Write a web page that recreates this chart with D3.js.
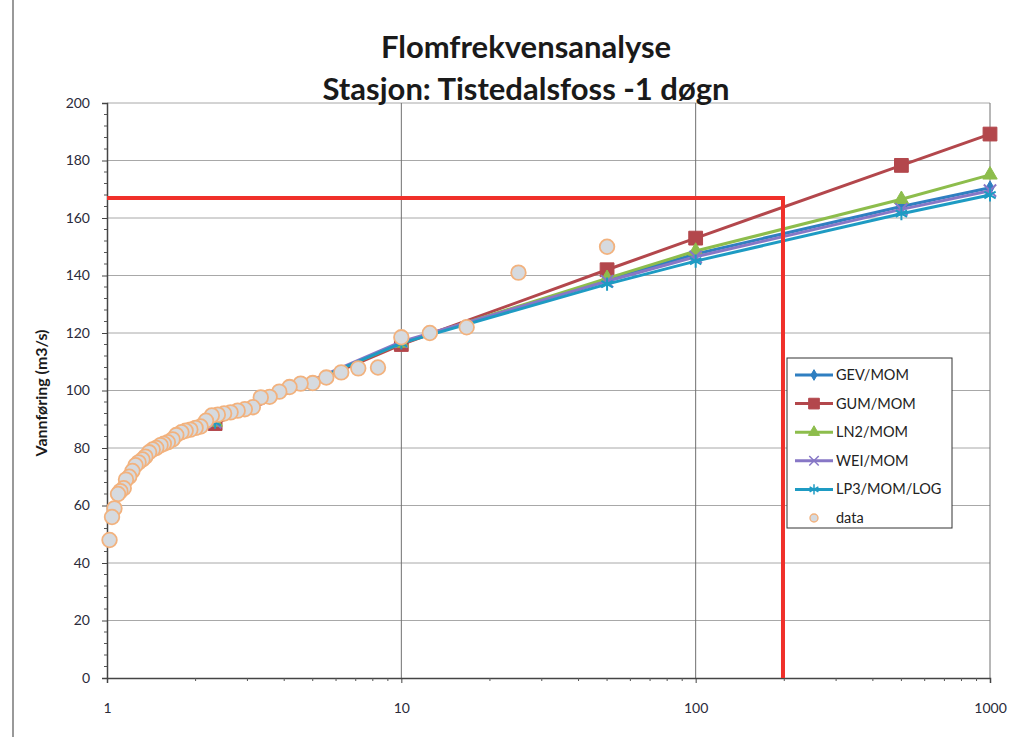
<!DOCTYPE html>
<html>
<head>
<meta charset="utf-8">
<script src="https://cdn.jsdelivr.net/npm/d3@7"></script>
<style>
    html, body { margin: 0; padding: 0; background: #fff; }
    svg { display: block; }
    text { font-family: Lato, "Open Sans", sans-serif; }
</style>
</head>
<body>
<svg id="chart" width="1021" height="737"></svg>
<script>
// ==========================================================================
// DATA
// ==========================================================================

// return periods (years) where the fitted distributions are evaluated
const fitPeriods = [2.33, 10, 50, 100, 500, 1000];

const gevValues = [89, 116.5, 138.5, 147.5, 164, 170.5];
const gumValues = [88.5, 116, 142, 153, 178.3, 189.2];
const ln2Values = [89, 116.5, 139, 148.5, 166.5, 175];
const weiValues = [89, 117, 138, 146.5, 163, 169.5];
const lp3Values = [89, 116.5, 137, 145, 161.5, 168];

// observed annual floods (plotting position, discharge)
const obsPeriods = [50, 25, 16.67, 12.5, 10, 8.33, 7.14, 6.25, 5.56, 5,
    4.55, 4.17, 3.85, 3.57, 3.33, 3.13, 2.94, 2.78, 2.63, 2.5,
    2.38, 2.27, 2.17, 2.08, 2, 1.92, 1.85, 1.79, 1.72, 1.67,
    1.61, 1.56, 1.52, 1.47, 1.43, 1.39, 1.35, 1.32, 1.28, 1.25,
    1.22, 1.19, 1.16, 1.14, 1.11, 1.09, 1.06, 1.04, 1.02];
const obsValues = [150, 141, 122, 120, 118.5, 108, 107.7, 106.3, 104.5, 102.6,
    102.4, 101.2, 99.6, 97.8, 97.6, 94.2, 93.5, 93, 92.4, 92,
    91.6, 91.3, 89.5, 87.5, 87, 86.4, 86, 85.5, 84.5, 83,
    82, 81.5, 81, 80, 79.5, 78.5, 77, 76, 75, 74,
    72, 70, 69, 66, 65, 64, 59, 56, 48];

// red reference line (200-year flood)
const refLineX = [1, 198, 198];
const refLineY = [167, 167, 0];

const xTicks = [1, 10, 100, 1000];
const yTicks = [0, 20, 40, 60, 80, 100, 120, 140, 160, 180, 200];

const titleLines = ['Flomfrekvensanalyse', 'Stasjon: Tistedalsfoss -1 døgn'];
const yAxisTitle = 'Vannføring (m3/s)';

// ==========================================================================
// CONFIG
// ==========================================================================

const seriesList = [
    { name: 'GEV/MOM', values: gevValues, color: '#2F7FC1', symbol: d3.symbolDiamond, size: 55, filled: true },
    { name: 'GUM/MOM', values: gumValues, color: '#B3474C', symbol: d3.symbolSquare, size: 190, filled: true },
    { name: 'LN2/MOM', values: ln2Values, color: '#8DBD4C', symbol: d3.symbolTriangle, size: 90, filled: true },
    { name: 'WEI/MOM', values: weiValues, color: '#8777C6', symbol: d3.symbolX, size: 100, filled: false },
    { name: 'LP3/MOM/LOG', values: lp3Values, color: '#1E9BC3', symbol: d3.symbolAsterisk, size: 120, filled: false }
];

const plot = { left: 107, right: 990, top: 103, bottom: 678 };

const svg = d3.select('#chart');

const x = d3.scaleLog().domain([1, 1000]).range([plot.left, plot.right]);
const y = d3.scaleLinear().domain([0, 200]).range([plot.bottom, plot.top]);

// ==========================================================================
// FRAME + GRID
// ==========================================================================

// left edge of the scanned chart frame
svg.append('line')
    .attr('x1', 13).attr('x2', 13).attr('y1', 0).attr('y2', 737)
    .attr('stroke', '#555').attr('stroke-width', 1.2);

// horizontal gridlines
svg.append('g')
    .selectAll('line')
    .data(yTicks.slice(1))
    .enter().append('line')
    .attr('x1', plot.left).attr('x2', plot.right)
    .attr('y1', d => y(d)).attr('y2', d => y(d))
    .attr('stroke', '#a8a8a8').attr('stroke-width', 1);

// vertical gridlines (decades)
svg.append('g')
    .selectAll('line')
    .data(xTicks.slice(1))
    .enter().append('line')
    .attr('x1', d => x(d)).attr('x2', d => x(d))
    .attr('y1', plot.top).attr('y2', plot.bottom)
    .attr('stroke', '#707070').attr('stroke-width', 1);

// Y axis
const yAxis = svg.append('g')
    .attr('transform', `translate(${plot.left},0)`)
    .call(d3.axisLeft(y).tickValues(yTicks).tickSize(5).tickPadding(12));
yAxis.selectAll('text')
    .style('font-size', '14px')
    .style('fill', '#2b2b3a');

// minor y ticks
svg.append('g')
    .selectAll('line')
    .data(d3.range(0, 201, 4).filter(v => v % 20 !== 0))
    .enter().append('line')
    .attr('x1', plot.left - 3).attr('x2', plot.left)
    .attr('y1', d => y(d)).attr('y2', d => y(d))
    .attr('stroke', '#555');

// X axis
const xAxis = svg.append('g')
    .attr('transform', `translate(0,${plot.bottom})`)
    .call(d3.axisBottom(x).tickValues(xTicks).tickFormat(d3.format('d')).tickSize(5).tickPadding(20));
xAxis.selectAll('text')
    .style('font-size', '14px')
    .style('fill', '#2b2b3a');

// minor x ticks
const minorX = [];
[1, 10, 100].forEach(dec => { for (let k = 2; k <= 9; k++) minorX.push(dec * k); });
svg.append('g')
    .selectAll('line')
    .data(minorX)
    .enter().append('line')
    .attr('x1', d => x(d)).attr('x2', d => x(d))
    .attr('y1', plot.bottom).attr('y2', plot.bottom + 3)
    .attr('stroke', '#555');

svg.selectAll('.domain').attr('stroke', '#444').attr('stroke-width', 1.5);
svg.selectAll('.tick line').attr('stroke', '#444');

// ==========================================================================
// SERIES
// ==========================================================================

const line = d3.line()
    .x(d => x(d[0]))
    .y(d => y(d[1]));

seriesList.forEach(s => {
    const pts = fitPeriods.map((t, i) => [t, s.values[i]]);
    const g = svg.append('g');
    g.append('path')
        .datum(pts)
        .attr('d', line)
        .attr('fill', 'none')
        .attr('stroke', s.color)
        .attr('stroke-width', 3);
    g.selectAll('path.mk')
        .data(pts)
        .enter().append('path')
        .attr('class', 'mk')
        .attr('transform', d => `translate(${x(d[0])},${y(d[1])})`)
        .attr('d', d3.symbol().type(s.symbol).size(s.size))
        .attr('fill', s.filled ? s.color : 'none')
        .attr('stroke', s.color)
        .attr('stroke-width', s.filled ? 1 : 2);
});

// observed data
svg.append('g')
    .selectAll('circle')
    .data(obsPeriods.map((t, i) => [t, obsValues[i]]))
    .enter().append('circle')
    .attr('cx', d => x(d[0]))
    .attr('cy', d => y(d[1]))
    .attr('r', 7.3)
    .attr('fill', '#d6dadf')
    .attr('stroke', '#f2b27e')
    .attr('stroke-width', 1.8);

// red 200-year line
svg.append('path')
    .datum(refLineX.map((t, i) => [t, refLineY[i]]))
    .attr('d', line)
    .attr('fill', 'none')
    .attr('stroke', '#f0302a')
    .attr('stroke-width', 4);

// ==========================================================================
// TITLES
// ==========================================================================

svg.append('g')
    .selectAll('text')
    .data(titleLines)
    .enter().append('text')
    .attr('x', 526)
    .attr('y', (d, i) => 58 + i * 42)
    .attr('text-anchor', 'middle')
    .style('font-size', '31px')
    .style('font-weight', 'bold')
    .style('fill', '#1a1a1a')
    .text(d => d);

svg.append('text')
    .attr('transform', 'translate(47,393) rotate(-90)')
    .attr('text-anchor', 'middle')
    .style('font-size', '16px')
    .style('font-weight', 'bold')
    .style('fill', '#1a1a1a')
    .text(yAxisTitle);

// ==========================================================================
// LEGEND
// ==========================================================================

const legend = svg.append('g').attr('transform', 'translate(787,358)');
legend.append('rect')
    .attr('width', 165).attr('height', 170)
    .attr('fill', '#fff')
    .attr('stroke', '#333').attr('stroke-width', 1);

seriesList.forEach((s, i) => {
    const ly = 17 + i * 28.6;
    legend.append('line')
        .attr('x1', 8).attr('x2', 46).attr('y1', ly).attr('y2', ly)
        .attr('stroke', s.color).attr('stroke-width', 3);
    legend.append('path')
        .attr('transform', `translate(27,${ly})`)
        .attr('d', d3.symbol().type(s.symbol).size(s.size * 0.6))
        .attr('fill', s.filled ? s.color : 'none')
        .attr('stroke', s.color)
        .attr('stroke-width', s.filled ? 1 : 1.5);
    legend.append('text')
        .attr('x', 49).attr('y', ly + 5)
        .style('font-size', '14.5px')
        .style('fill', '#222')
        .text(s.name);
});

const dataY = 17 + 5 * 28.6;
legend.append('circle')
    .attr('cx', 27).attr('cy', dataY).attr('r', 4)
    .attr('fill', '#d6dadf').attr('stroke', '#f2b27e').attr('stroke-width', 1.4);
legend.append('text')
    .attr('x', 49).attr('y', dataY + 5)
    .style('font-size', '14.5px')
    .style('fill', '#222')
    .text('data');
</script>
</body>
</html>
